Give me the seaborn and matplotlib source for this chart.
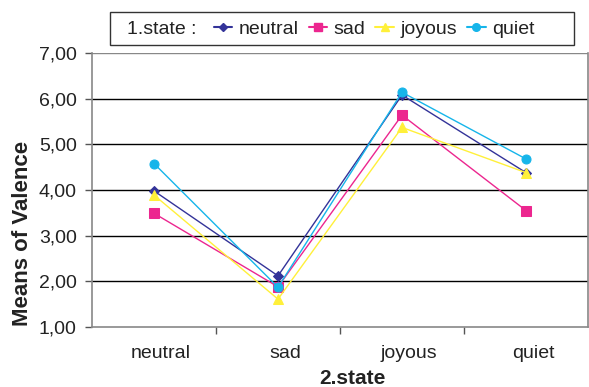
import matplotlib
matplotlib.use("Agg")
import matplotlib.pyplot as plt
import matplotlib.transforms as mtransforms
from matplotlib.lines import Line2D
from matplotlib.patches import Rectangle
from matplotlib.ticker import FuncFormatter, FixedLocator
import seaborn as sns
import pandas as pd

states = ["neutral", "sad", "joyous", "quiet"]
neutral_vals = [3.98, 2.12, 6.08, 4.38]
sad_vals = [3.49, 1.88, 5.64, 3.55]
joyous_vals = [3.89, 1.61, 5.37, 4.38]
quiet_vals = [4.58, 1.87, 6.14, 4.68]

series = {"neutral": neutral_vals, "sad": sad_vals, "joyous": joyous_vals, "quiet": quiet_vals}
colors = {"neutral": "#333399", "sad": "#EC268F", "joyous": "#FFF03A", "quiet": "#16B5EA"}
markers = {"neutral": "D", "sad": "s", "joyous": "^", "quiet": "o"}
msizes = {"neutral": 5, "sad": 6.5, "joyous": 7, "quiet": 6.5}

rows = []
for name, vals in series.items():
    for i, v in enumerate(vals):
        rows.append({"first": name, "pos": i, "value": v})
df = pd.DataFrame(rows)

sns.set_theme(style="white")
plt.rcParams["font.family"] = ["Liberation Sans", "DejaVu Sans"]

W, H = 589, 387
fig = plt.figure(figsize=(W / 100, H / 100), dpi=100)
ax = fig.add_axes([92 / W, 1 - 327 / H, (588 - 92) / W, (327 - 53) / H])

for name in series:
    sub = df[df["first"] == name]
    sns.lineplot(data=sub, x="pos", y="value", ax=ax, color=colors[name],
                 marker=markers[name], markersize=msizes[name],
                 markeredgecolor=colors[name], linewidth=1.0, legend=False)

ax.set_xlim(-0.5, 3.5)
ax.set_ylim(1, 7)
for y in range(2, 7):
    ax.axhline(y, color="black", linewidth=1.0, zorder=0)
ax.axhline(7, color="#888888", linewidth=1.0, zorder=0)

ax.set_yticks(range(1, 8))
ax.yaxis.set_major_formatter(FuncFormatter(lambda v, p: f"{v:.2f}".replace(".", ",")))
ax.set_xticks([0, 1, 2, 3])
ax.set_xticklabels(states)
ax.xaxis.set_minor_locator(FixedLocator([0.5, 1.5, 2.5]))
ax.tick_params(axis="x", which="major", length=0, labelsize=14, colors="#222222", pad=13)
ax.tick_params(axis="x", which="minor", length=5, direction="out", color="#555555", width=1, bottom=True)
ax.tick_params(axis="y", length=5, direction="out", color="#555555", width=1, labelsize=14,
               labelcolor="#222222", left=True, pad=6)

# category labels sit slightly right of their columns
shift = mtransforms.ScaledTranslation(7 / 100, 0, fig.dpi_scale_trans)
for lab in ax.get_xticklabels():
    lab.set_transform(lab.get_transform() + shift)

for side in ["left", "bottom", "right"]:
    ax.spines[side].set_color("#888888")
    ax.spines[side].set_linewidth(1.2)
ax.spines["top"].set_visible(False)

ax.set_xlabel("2.state", fontsize=15, fontweight="bold", color="#222222")
ax.xaxis.set_label_coords((352 - 92) / 496, -(378 - 327) / 274)
ax.xaxis.label.set_va("center")
ax.set_ylabel("Means of Valence", fontsize=16, fontweight="bold", color="#222222")
ax.yaxis.set_label_coords((23 - 92) / 496, (327 - 233) / 274)
ax.yaxis.label.set_va("center")

# legend box with inline title
fig.patches.append(Rectangle((110 / W, 1 - 45 / H), (574 - 110) / W, 33 / H,
                             transform=fig.transFigure, fill=False,
                             edgecolor="#333333", linewidth=1.0))
fig.text(127 / W, 1 - 29 / H, "1.state :", fontsize=14, color="#222222",
         va="center", ha="left")

handles = []
for name in series:
    handles.append(Line2D([], [], color=colors[name], marker=markers[name],
                          markersize=msizes[name] - 1, markeredgecolor=colors[name], linewidth=1.5))
leg = fig.legend(handles, list(series), loc="center left", bbox_to_anchor=(200 / W, 1 - 29 / H),
                 ncol=4, frameon=False, fontsize=14, handlelength=0.95,
                 handletextpad=0.35, columnspacing=0.5, borderpad=0.2)
for t in leg.get_texts():
    t.set_color("#222222")

fig.savefig("out.png", dpi=100)
